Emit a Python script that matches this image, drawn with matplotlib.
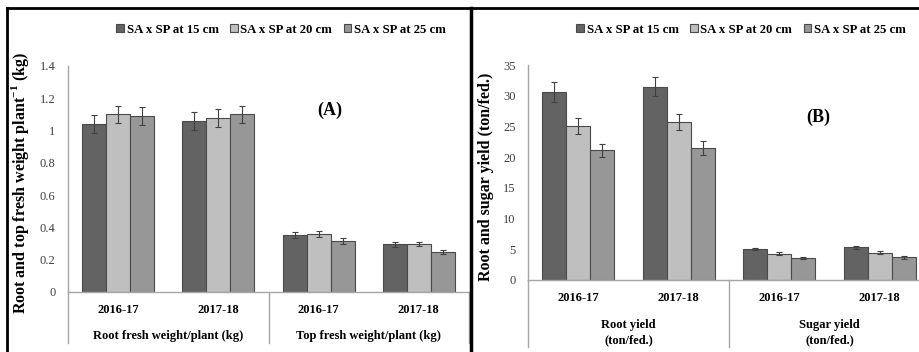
import numpy as np
import matplotlib
matplotlib.use("Agg")
import matplotlib.pyplot as plt
from matplotlib.lines import Line2D

plt.rcParams['font.family'] = ['Liberation Serif', 'DejaVu Serif']
plt.rcParams['mathtext.fontset'] = 'custom'
plt.rcParams['mathtext.rm'] = 'Liberation Serif'
plt.rcParams['mathtext.bf'] = 'Liberation Serif:bold'

# Data
series = ['SA x SP at 15 cm', 'SA x SP at 20 cm', 'SA x SP at 25 cm']
years = ['2016-17', '2017-18', '2016-17', '2017-18']

# (A) fresh weight per plant, kg
groups_a = ['Root fresh weight/plant (kg)', 'Top fresh weight/plant (kg)']
sp15_a = [1.04, 1.06, 0.355, 0.295]
sp20_a = [1.10, 1.08, 0.36, 0.295]
sp25_a = [1.09, 1.10, 0.315, 0.248]
err15_a = [0.055, 0.055, 0.018, 0.015]
err20_a = [0.055, 0.055, 0.02, 0.013]
err25_a = [0.055, 0.055, 0.018, 0.012]

# (B) root and sugar yield, ton/fed.
groups_b = ['Root yield\n(ton/fed.)', 'Sugar yield\n(ton/fed.)']
sp15_b = [30.6, 31.5, 5.05, 5.3]
sp20_b = [25.1, 25.8, 4.3, 4.45]
sp25_b = [21.1, 21.5, 3.55, 3.7]
err15_b = [1.6, 1.6, 0.2, 0.3]
err20_b = [1.3, 1.3, 0.3, 0.2]
err25_b = [1.1, 1.1, 0.2, 0.2]

colors = ['#636363', '#bfbfbf', '#979797']
edge = '#4a4a4a'
axis_gray = '#a6a6a6'

fig = plt.figure(figsize=(9.2, 3.52), dpi=100)


def panel(rect, values, errors, ymax, ystep, tag, tag_xy, groups, ylabel,
          ylabel_x, sep_depth, group_y, legend_x):
    ax = fig.add_axes(rect)
    x = np.arange(len(years))
    w = 0.24
    for i, (vals, errs) in enumerate(zip(values, errors)):
        ax.bar(x + (i - 1) * w, vals, w, color=colors[i], edgecolor=edge,
               linewidth=0.8, label=series[i], zorder=2)
        ax.errorbar(x + (i - 1) * w, vals, yerr=errs, fmt='none',
                    ecolor='#404040', elinewidth=0.8, capsize=2.5,
                    capthick=0.8, zorder=3)
    ax.set_xlim(-0.5, 3.5)
    ax.set_ylim(0, ymax)
    ticks = np.arange(0, ymax + ystep / 2, ystep)
    ax.set_yticks(ticks)
    ax.set_yticklabels([f'{v:g}' for v in ticks], fontsize=9, color='#404040')
    ax.tick_params(axis='y', length=0, pad=9)
    ax.set_xticks([])
    for s in ['top', 'right']:
        ax.spines[s].set_visible(False)
    for s in ['left', 'bottom']:
        ax.spines[s].set_color(axis_gray)
        ax.spines[s].set_linewidth(1)

    # year labels and category separators below the axis
    tr = ax.get_xaxis_transform()
    for xi, yr in zip(x, years):
        ax.text(xi, -18 / (rect[3] * 352), yr, transform=tr,
                ha='center', va='center', fontsize=9, fontweight='bold')
    for xs in [-0.5, 1.5, 3.5]:
        ax.add_line(Line2D([xs, xs], [0, -sep_depth], transform=tr,
                           color=axis_gray, lw=1, clip_on=False))
    for gi, g in enumerate(groups):
        ax.text(0.5 + 2 * gi, group_y, g, transform=tr, ha='center',
                va='center', fontsize=9, fontweight='bold', linespacing=1.45)

    fig.text(tag_xy[0], tag_xy[1], tag, ha='center', va='center',
             fontsize=13, fontweight='bold')
    fig.text(ylabel_x, rect[1] + rect[3] / 2 - 0.012, ylabel, rotation=90,
             ha='center', va='center', fontsize=11.5, fontweight='bold')

    ax.legend(loc='center', bbox_to_anchor=(legend_x, 0.915),
              bbox_transform=fig.transFigure, ncol=3, frameon=False,
              prop={'weight': 'bold', 'size': 9.2},
              handlelength=0.6, handleheight=0.6, handletextpad=0.2,
              columnspacing=0.9)
    return ax


panel([68 / 920, 60 / 352, 401 / 920, 226 / 352],
      [sp15_a, sp20_a, sp25_a], [err15_a, err20_a, err25_a], 1.4, 0.2,
      '(A)', (330 / 920, 1 - 110 / 352), groups_a,
      r'Root and top fresh weight plant$^{\mathbf{-1}}$ (kg)',
      20 / 920, 0.226, -0.195, 281 / 920)

panel([528 / 920, 72 / 352, 402 / 920, 215 / 352],
      [sp15_b, sp20_b, sp25_b], [err15_b, err20_b, err25_b], 35, 5,
      '(B)', (818 / 920, 1 - 117 / 352), groups_b,
      'Root and sugar yield (ton/fed.)',
      486 / 920, 0.31, -0.245, 741 / 920)

# outer frame lines
fig.add_artist(Line2D([7 / 920, 1], [1 - 8 / 352, 1 - 8 / 352],
                      transform=fig.transFigure, color='black', lw=2))
fig.add_artist(Line2D([7 / 920, 7 / 920], [0, 1 - 8 / 352],
                      transform=fig.transFigure, color='black', lw=2))
fig.add_artist(Line2D([471 / 920, 471 / 920], [0, 1 - 8 / 352],
                      transform=fig.transFigure, color='black', lw=2.5))

fig.savefig('out.png', dpi=100)
